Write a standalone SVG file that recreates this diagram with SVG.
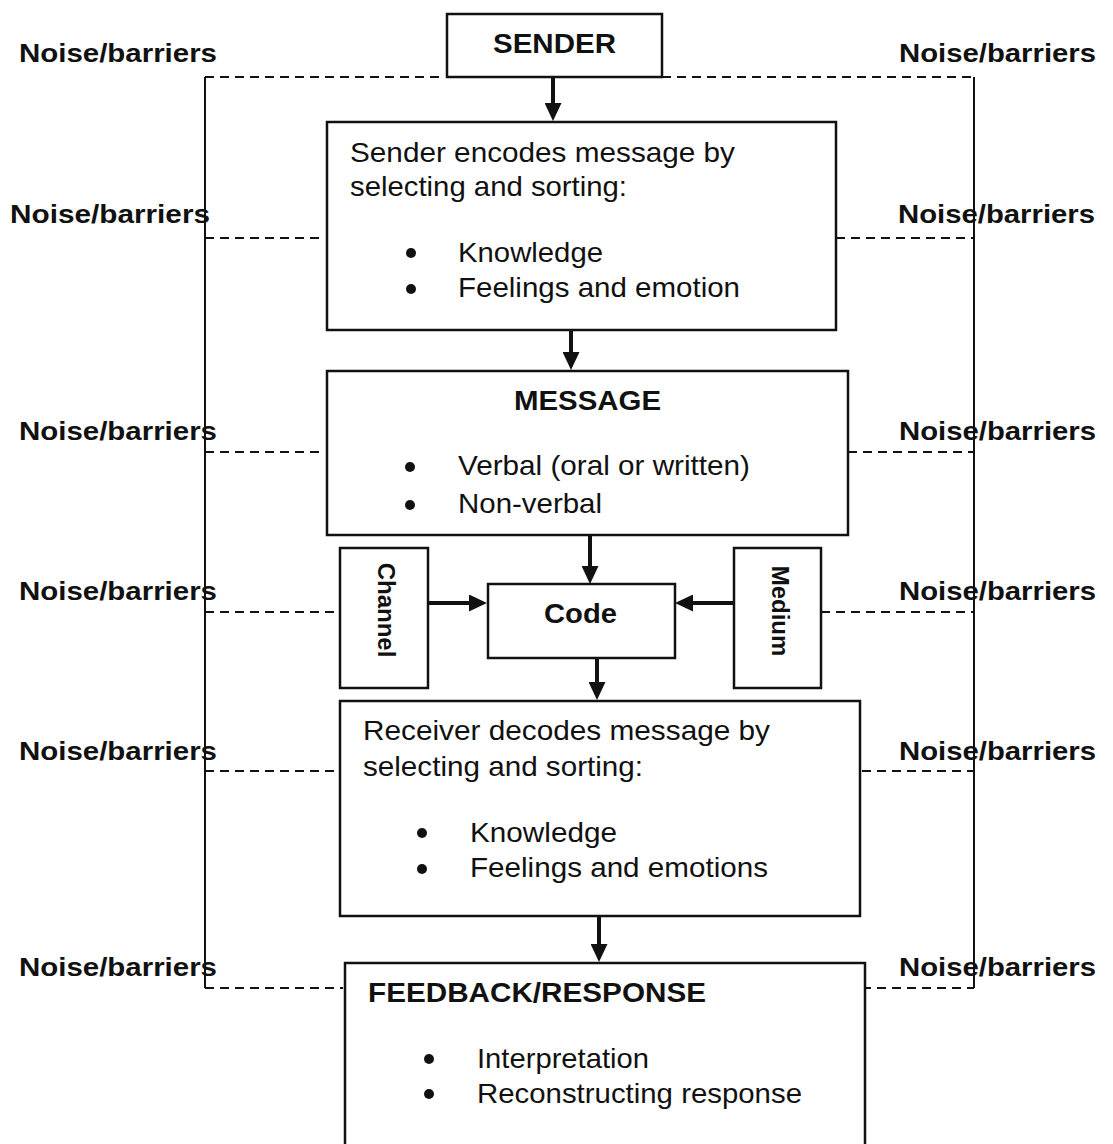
<svg xmlns="http://www.w3.org/2000/svg" width="1113" height="1144" viewBox="0 0 1113 1144">
<style>
text { font-family: "Liberation Sans", Arial, Helvetica, sans-serif; fill: #111; }
.noise { font-size: 26.5px; font-weight: bold; }
.head { font-size: 27px; font-weight: bold; }
.body { font-size: 28px; }
.vert { font-size: 24px; font-weight: bold; }
.box { fill: #fff; stroke: #111; stroke-width: 2.5; }
.frame { fill: none; stroke: #111; stroke-width: 2; }
.dash { fill: none; stroke: #111; stroke-width: 2; stroke-dasharray: 9 6; }
.arrow { fill: none; stroke: #111; stroke-width: 4; marker-end: url(#ah); }
.bullet { fill: #111; }
</style>
<defs>
<marker id="ah" viewBox="0 0 18 17" markerWidth="18" markerHeight="17" refX="13" refY="8.5" orient="auto" markerUnits="userSpaceOnUse">
<path d="M0,0 L18,8.5 L0,17 Z" fill="#111"/>
</marker>
</defs>
<rect width="1113" height="1144" fill="#fff"/>

<g id="noise-frame">
<path class="frame" d="M205,77 V988"/>
<path class="frame" d="M974,77 V988"/>
<path class="dash" d="M205,77 H442"/>
<path class="dash" d="M662,77 H974"/>
<path class="dash" d="M205,238 H325"/>
<path class="dash" d="M836,238 H974"/>
<path class="dash" d="M205,452 H325"/>
<path class="dash" d="M848,452 H974"/>
<path class="dash" d="M205,612 H338"/>
<path class="dash" d="M821,612 H974"/>
<path class="dash" d="M205,771 H338"/>
<path class="dash" d="M862,771 H974"/>
<path class="dash" d="M205,988 H343"/>
<path class="dash" d="M862,988 H974"/>
</g>

<g id="noise-labels">
<text class="noise" x="19" y="62" textLength="198" lengthAdjust="spacingAndGlyphs">Noise/barriers</text>
<text class="noise" x="899" y="62" textLength="197" lengthAdjust="spacingAndGlyphs">Noise/barriers</text>
<text class="noise" x="10" y="223" textLength="200" lengthAdjust="spacingAndGlyphs">Noise/barriers</text>
<text class="noise" x="898" y="223" textLength="197" lengthAdjust="spacingAndGlyphs">Noise/barriers</text>
<text class="noise" x="19" y="440" textLength="198" lengthAdjust="spacingAndGlyphs">Noise/barriers</text>
<text class="noise" x="899" y="440" textLength="197" lengthAdjust="spacingAndGlyphs">Noise/barriers</text>
<text class="noise" x="19" y="600" textLength="198" lengthAdjust="spacingAndGlyphs">Noise/barriers</text>
<text class="noise" x="899" y="600" textLength="197" lengthAdjust="spacingAndGlyphs">Noise/barriers</text>
<text class="noise" x="19" y="760" textLength="198" lengthAdjust="spacingAndGlyphs">Noise/barriers</text>
<text class="noise" x="899" y="760" textLength="197" lengthAdjust="spacingAndGlyphs">Noise/barriers</text>
<text class="noise" x="19" y="976" textLength="198" lengthAdjust="spacingAndGlyphs">Noise/barriers</text>
<text class="noise" x="899" y="976" textLength="197" lengthAdjust="spacingAndGlyphs">Noise/barriers</text>
</g>

<g id="sender">
<rect class="box" x="447" y="14" width="215" height="63"/>
<text class="head" x="493" y="53" textLength="123" lengthAdjust="spacingAndGlyphs">SENDER</text>
</g>

<g id="encode">
<rect class="box" x="327" y="122" width="509" height="208"/>
<text class="body" x="350" y="162" textLength="385" lengthAdjust="spacingAndGlyphs">Sender encodes message by</text>
<text class="body" x="350" y="196" textLength="277" lengthAdjust="spacingAndGlyphs">selecting and sorting:</text>
<circle class="bullet" cx="411" cy="253" r="5"/>
<text class="body" x="458" y="262" textLength="145" lengthAdjust="spacingAndGlyphs">Knowledge</text>
<circle class="bullet" cx="411" cy="289" r="5"/>
<text class="body" x="458" y="297" textLength="282" lengthAdjust="spacingAndGlyphs">Feelings and emotion</text>
</g>

<g id="message">
<rect class="box" x="327" y="371" width="521" height="164"/>
<text class="head" x="514" y="410" textLength="147" lengthAdjust="spacingAndGlyphs">MESSAGE</text>
<circle class="bullet" cx="410" cy="467" r="5"/>
<text class="body" x="458" y="475" textLength="292" lengthAdjust="spacingAndGlyphs">Verbal (oral or written)</text>
<circle class="bullet" cx="410" cy="505" r="5"/>
<text class="body" x="458" y="513" textLength="144" lengthAdjust="spacingAndGlyphs">Non-verbal</text>
</g>

<g id="channel">
<rect class="box" x="340" y="548" width="88" height="140"/>
<text class="vert" text-anchor="middle" transform="translate(378,610) rotate(90)">Channel</text>
</g>

<g id="code">
<rect class="box" x="488" y="584" width="187" height="74"/>
<text class="head" x="544" y="623" textLength="73" lengthAdjust="spacingAndGlyphs">Code</text>
</g>

<g id="medium">
<rect class="box" x="734" y="548" width="87" height="140"/>
<text class="vert" text-anchor="middle" transform="translate(772,611) rotate(90)">Medium</text>
</g>

<g id="decode">
<rect class="box" x="340" y="701" width="520" height="215"/>
<text class="body" x="363" y="740" textLength="407" lengthAdjust="spacingAndGlyphs">Receiver decodes message by</text>
<text class="body" x="363" y="776" textLength="280" lengthAdjust="spacingAndGlyphs">selecting and sorting:</text>
<circle class="bullet" cx="422" cy="833" r="5"/>
<text class="body" x="470" y="842" textLength="147" lengthAdjust="spacingAndGlyphs">Knowledge</text>
<circle class="bullet" cx="422" cy="869" r="5"/>
<text class="body" x="470" y="877" textLength="298" lengthAdjust="spacingAndGlyphs">Feelings and emotions</text>
</g>

<g id="feedback">
<rect class="box" x="345" y="963" width="520" height="200"/>
<text class="head" x="368" y="1002" textLength="338" lengthAdjust="spacingAndGlyphs">FEEDBACK/RESPONSE</text>
<circle class="bullet" cx="429" cy="1059" r="5"/>
<text class="body" x="477" y="1068" textLength="172" lengthAdjust="spacingAndGlyphs">Interpretation</text>
<circle class="bullet" cx="429" cy="1094" r="5"/>
<text class="body" x="477" y="1103" textLength="325" lengthAdjust="spacingAndGlyphs">Reconstructing response</text>
</g>

<g id="connectors">
<path class="arrow" d="M553,77 V116"/>
<path class="arrow" d="M571,330 V365"/>
<path class="arrow" d="M590,535 V579"/>
<path class="arrow" d="M428,603 H482"/>
<path class="arrow" d="M734,603 H680"/>
<path class="arrow" d="M597,658 V695"/>
<path class="arrow" d="M599,916 V957"/>
</g>
</svg>
